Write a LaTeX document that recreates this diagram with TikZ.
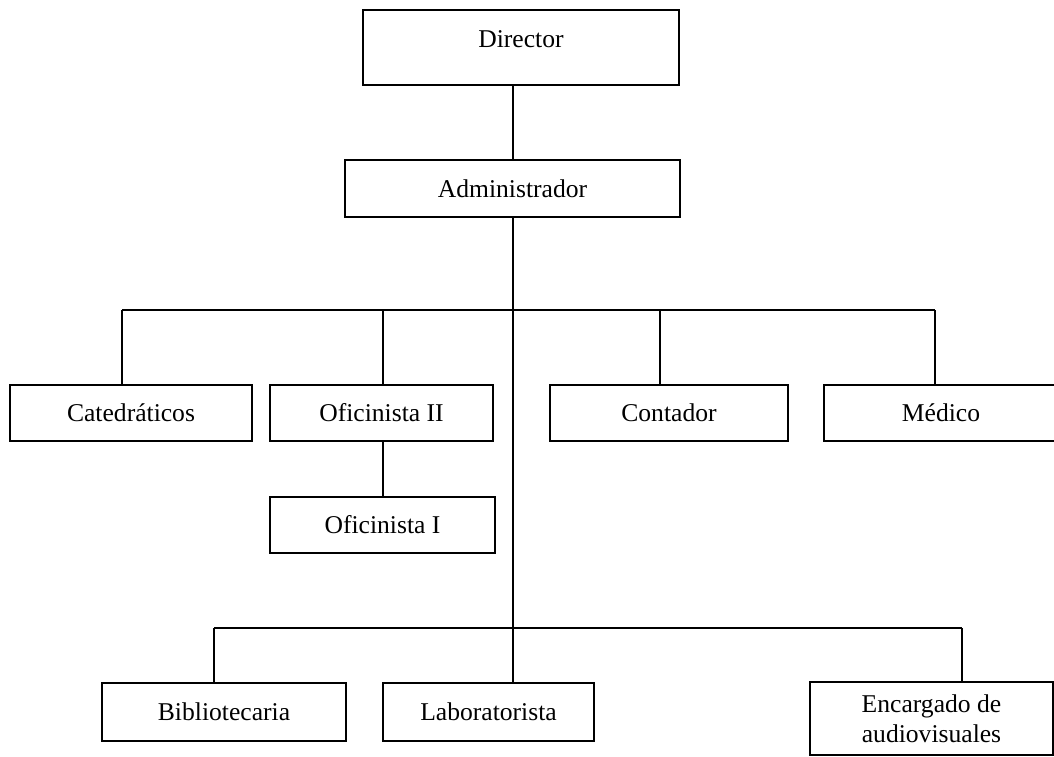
\documentclass[tikz,border=0pt]{standalone}
\usepackage{fontspec}
\setmainfont{Liberation Serif}
\begin{document}
\begin{tikzpicture}[x=1pt,y=-1pt,
  line width=2pt,
  box/.style={draw, rectangle, inner sep=0pt, line width=2pt,
    font=\fontsize{25.6}{30}\selectfont, align=center},
  wire/.style={draw, line width=2pt}]
\useasboundingbox (0,0) rectangle (1054,756);

% boxes
\node[box, minimum width=316pt, text height=37pt, text depth=38pt] (dir) at (521,47.5) {Director};
\node[box, minimum width=335pt, minimum height=57pt] (adm) at (512.5,188.5) {Administrador};
\node[box, minimum width=242pt, minimum height=56pt] (cat) at (131,413) {Catedráticos};
\node[box, minimum width=223pt, minimum height=56pt] (of2) at (381.5,413) {Oficinista II};
\node[box, minimum width=238pt, minimum height=56pt] (con) at (669,413) {Contador};
\node[box, minimum width=234pt, minimum height=56pt] (med) at (941,413) {Médico};
\node[box, minimum width=225pt, minimum height=56pt] (of1) at (382.5,525) {Oficinista I};
\node[box, minimum width=244pt, minimum height=58pt] (bib) at (224,712) {Bibliotecaria};
\node[box, minimum width=211pt, minimum height=58pt] (lab) at (488.5,712) {Laboratorista};
\node[box, minimum width=243pt, minimum height=73pt] (enc) at (931.5,718.5) {Encargado de\\audiovisuales};

% bus junctions
\coordinate (u1) at (122,310);
\coordinate (u2) at (383,310);
\coordinate (u3) at (660,310);
\coordinate (u4) at (935,310);
\coordinate (v1) at (214,628);
\coordinate (v2) at (962,628);

% connectors
\draw[wire] (adm.north) -- (adm.north |- dir.south);
\draw[wire] (adm.south) -- (adm.south |- lab.north);
\draw[wire] (u1) -- (u4);
\draw[wire] (u1) -- (u1 |- cat.north);
\draw[wire] (u2) -- (u2 |- of2.north);
\draw[wire] (u3) -- (u3 |- con.north);
\draw[wire] (u4) -- (u4 |- med.north);
\draw[wire] (of2.south -| u2) -- (u2 |- of1.north);
\draw[wire] (v1) -- (v2);
\draw[wire] (v1) -- (v1 |- bib.north);
\draw[wire] (v2) -- (v2 |- enc.north);
\end{tikzpicture}
\end{document}
